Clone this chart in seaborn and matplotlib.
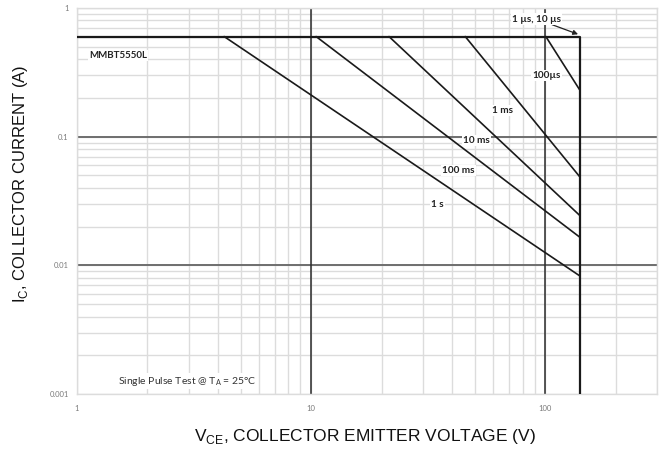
import matplotlib
matplotlib.use("Agg")
import matplotlib.pyplot as plt
from matplotlib.ticker import LogLocator, FixedLocator, NullFormatter
import seaborn as sns
import pandas as pd
import numpy as np

# Pulse-duration lines: start on the 0.6 A limit, end on the 140 V limit
durations = ["1 s", "100 ms", "10 ms", "1 ms", "100µs"]
v_start = [4.25, 10.5, 21.5, 45.5, 100.5]
v_end = [140, 140, 140, 140, 140]
i_start = [0.6, 0.6, 0.6, 0.6, 0.6]
i_end = [0.0083, 0.0166, 0.0245, 0.049, 0.232]

# DC limit (1 µs, 10 µs): current limit then voltage limit
limit_v = [1, 140, 140]
limit_i = [0.6, 0.6, 0.001]

# label positions (data coords)
label_x = [34.5, 42.5, 50.7, 65.5, 101]
label_y = [0.0297, 0.0545, 0.093, 0.159, 0.30]

records = []
for name, v0, v1, i0, i1 in zip(durations, v_start, v_end, i_start, i_end):
    records.append({"Pulse": name, "V": v0, "I": i0})
    records.append({"Pulse": name, "V": v1, "I": i1})
df = pd.DataFrame(records)
df_limit = pd.DataFrame({"Pulse": "DC", "V": limit_v, "I": limit_i})

sns.set_theme(style="white")
plt.rcParams["font.family"] = ["Lato", "DejaVu Sans"]

fig = plt.figure(figsize=(6.61, 4.54), dpi=100)
ax = fig.add_axes([0.1165, 0.1322, 0.8775, 0.8502])

ax.set_xscale("log")
ax.set_yscale("log")
ax.set_xlim(1, 300)
ax.set_ylim(0.001, 1)

# grid: light minor + light major, darker decade lines drawn on top
ax.xaxis.set_minor_locator(LogLocator(base=10, subs=np.arange(2, 10)))
ax.yaxis.set_minor_locator(LogLocator(base=10, subs=np.arange(2, 10)))
ax.xaxis.set_minor_formatter(NullFormatter())
ax.yaxis.set_minor_formatter(NullFormatter())
ax.xaxis.set_major_locator(FixedLocator([1, 10, 100]))
ax.yaxis.set_major_locator(FixedLocator([0.001, 0.01, 0.1, 1]))
ax.set_xticklabels(["1", "10", "100"])
ax.set_yticklabels(["0.001", "0.01", "0.1", "1"])
ax.grid(which="both", color="#dcdcdc", linewidth=1.0)
for yv in [0.01, 0.1, 1]:
    ax.axhline(yv, color="#6e6e6e", linewidth=1.4, zorder=1.5)
for xv in [10, 100]:
    ax.axvline(xv, color="#2a2a2a", linewidth=1.1, zorder=1.5)
for s in ax.spines.values():
    s.set_color("#dcdcdc")
    s.set_linewidth(1.0)
ax.tick_params(which="both", length=0, labelsize=5.5, labelcolor="#7a7a7a")
ax.tick_params(axis="x", pad=8)
ax.tick_params(axis="y", pad=6)

sns.lineplot(data=df, x="V", y="I", units="Pulse", estimator=None,
             color="#1a1a1a", linewidth=1.2, ax=ax, zorder=3)
sns.lineplot(data=df_limit, x="V", y="I", estimator=None, sort=False,
             color="#1a1a1a", linewidth=1.6, ax=ax, zorder=3)

bbox = dict(facecolor="white", edgecolor="none", pad=0.8)
for name, lx, ly in zip(durations, label_x, label_y):
    ax.text(lx, ly, name, ha="center", va="center", fontsize=7.2,
            fontweight="bold", color="#222222", bbox=bbox, zorder=4)

ax.annotate("1 µs, 10 µs", xy=(138, 0.625), xytext=(92, 0.82),
            ha="center", va="center", fontsize=7.2, fontweight="bold",
            color="#222222", zorder=4,
            bbox=bbox,
            arrowprops=dict(arrowstyle="-|>", color="#222222", lw=0.9,
                            mutation_scale=7, shrinkA=0, shrinkB=0))

ax.text(1.125, 0.425, "MMBT5550L", ha="left", va="center", fontsize=7,
        fontweight="bold", color="#222222", bbox=bbox, zorder=4)
ax.text(2.95, 0.00126, "Single Pulse Test @ T$_\\mathregular{A}$ = 25°C",
        ha="center", va="center", fontsize=7.5, color="#333333",
        bbox=bbox, zorder=4)

lab_family = ["Liberation Sans", "DejaVu Sans"]
ax.set_xlabel("V$_\\mathregular{CE}$, COLLECTOR EMITTER VOLTAGE (V)",
              family=lab_family, size=12.5, color="#111111")
ax.set_ylabel("I$_\\mathregular{C}$, COLLECTOR CURRENT (A)",
              family=lab_family, size=12, color="#111111")
ax.xaxis.set_label_coords(0.497, -0.111)
ax.yaxis.set_label_coords(-0.098, 0.544)
ax.xaxis.label.set_va("center")
ax.yaxis.label.set_va("center")

fig.savefig("out.png", dpi=100)
